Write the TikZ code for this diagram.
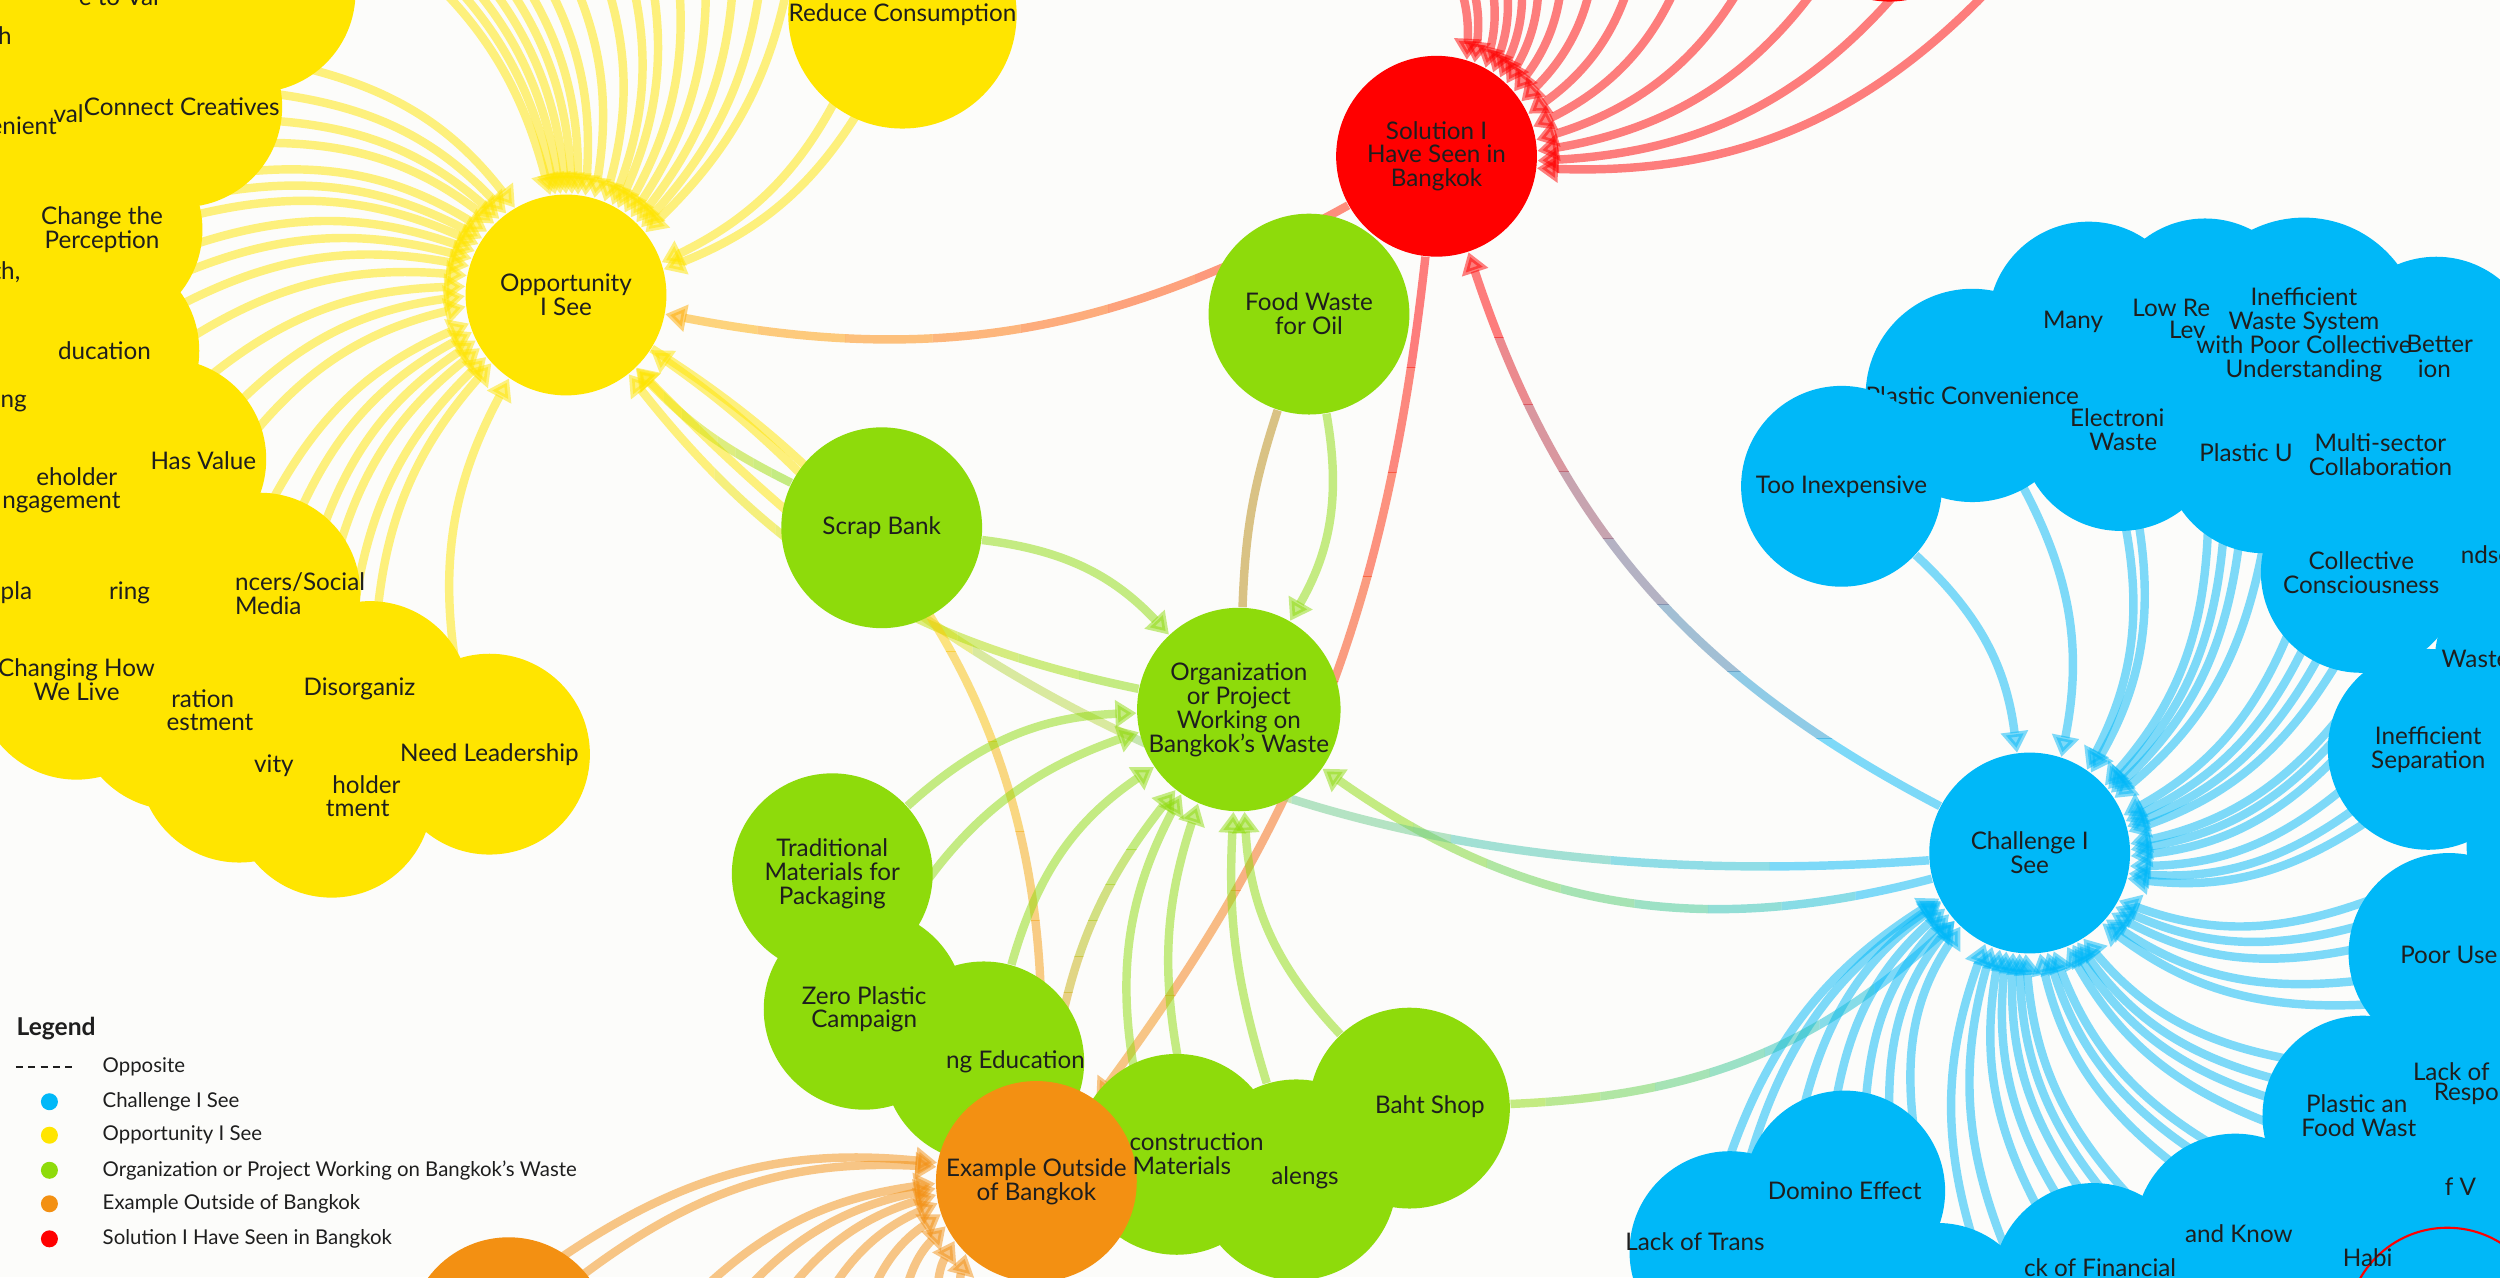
\documentclass[tikz,border=0pt]{standalone}
\usepackage{fontspec}
\setmainfont{Lato}
\usetikzlibrary{arrows.meta}
\pgfdeclarelayer{bglayer}
\pgfdeclarelayer{edgelayer}
\pgfsetlayers{bglayer,edgelayer,main}
\definecolor{bgc}{HTML}{FCFCFA}
\definecolor{cy}{HTML}{FFE500}
\definecolor{cg}{HTML}{8EDB0B}
\definecolor{cb}{HTML}{00B8F8}
\definecolor{cr}{HTML}{FF0000}
\definecolor{co}{HTML}{F39012}
\definecolor{tx}{HTML}{1E1E1E}
\definecolor{eTan}{HTML}{B88A10}
\colorlet{cSolOpp}{cr!85!cy}
\colorlet{cOppSol}{cy!75!cr}
\newcommand{\myNodeFont}{\fontsize{6.9}{6.8}\selectfont}
\newcommand{\myLegFont}{\fontsize{5.8}{6.5}\selectfont}
\tikzset{
  circ/.style={circle, minimum size=2.0085cm, inner sep=0pt, align=center, text=tx, font=\myNodeFont},
  ycirc/.style={circ, fill=cy},
  gcirc/.style={circ, fill=cg},
  bcirc/.style={circ, fill=cb},
  rcirc/.style={circ, fill=cr},
  ocirc/.style={circ, fill=co},
  frag/.style={inner sep=0pt, text=tx, font=\myNodeFont},
  fw/.style={frag, anchor=west},
  fe/.style={frag, anchor=east},
  ed/.style={opacity=0.5, line width=2.4pt, -{Triangle[length=6pt,width=7.5pt]}},
  legtxt/.style={anchor=west, inner sep=0pt, text=tx, font=\myLegFont},
  legdot/.style={circle, inner sep=0pt, minimum size=0.17cm},
}
% connector whose colour runs from #4 (at x=#6) to #5 (at x=#7)
\newcommand{\gedgeX}[7]{%
  \foreach \k in {0,...,7}{%
    \pgfmathtruncatemacro\gpa{100-\k*100/7}%
    \pgfmathsetmacro\gxa{#6+(#7-#6)*\k/8}%
    \pgfmathsetmacro\gxb{#6+(#7-#6)*(\k+1)/8}%
    \ifnum\k=0 \pgfmathsetmacro\gxa{#6-(#7-#6)*3}\fi
    \ifnum\k=7 \pgfmathsetmacro\gxb{#7+(#7-#6)*3}\fi
    \begin{scope}
      \clip (\gxa,300) rectangle (\gxb,-1100);
      \draw[ed, draw=#4!\gpa!#5] (#1) to[#3] (#2);
    \end{scope}}}
% connector whose colour runs from #4 (at y=#6) to #5 (at y=#7)
\newcommand{\gedgeY}[7]{%
  \foreach \k in {0,...,7}{%
    \pgfmathtruncatemacro\gpa{100-\k*100/7}%
    \pgfmathsetmacro\gya{#6+(#7-#6)*\k/8}%
    \pgfmathsetmacro\gyb{#6+(#7-#6)*(\k+1)/8}%
    \ifnum\k=0 \pgfmathsetmacro\gya{#6-(#7-#6)*3}\fi
    \ifnum\k=7 \pgfmathsetmacro\gyb{#7+(#7-#6)*3}\fi
    \begin{scope}
      \clip (-600,\gya) rectangle (2200,\gyb);
      \draw[ed, draw=#4!\gpa!#5] (#1) to[#3] (#2);
    \end{scope}}}
\begin{document}
\begin{tikzpicture}[x=0.01594cm, y=0.01594cm]
\begin{pgfonlayer}{bglayer}
\fill[bgc] (0,0) rectangle (1568,-801);
\end{pgfonlayer}
\useasboundingbox (0,0) rectangle (1568,-801);
\clip (0,0) rectangle (1568,-801);

% ---------------- yellow cluster
\node[ycirc] (yA) at (160,5) {};
\node[ycirc] (yB) at (57,5) {};
\node[ycirc] (yX) at (-20,-20) {};
\node[ycirc] (yY) at (20,-40) {};
\node[ycirc] (yD) at (-15,-80) {};
\node[ycirc] (yG) at (-20,-170) {};
\node[ycirc] (yH) at (-20,-252) {};
\node[ycirc] (yF) at (62,-220) {};
\node[ycirc] (yI) at (104,-288) {};
\node[ycirc] (yJ) at (44,-307) {};
\node[ycirc] (yK) at (50,-372) {};
\node[ycirc] (yL) at (163,-372) {};
\node[ycirc] (yN) at (110,-445) {};
\node[ycirc] (yO) at (232,-440) {};
\node[ycirc] (yP) at (150,-478) {};
\node[ycirc] (yQ) at (208,-500) {};
\node[ycirc] (yC) at (114,-67) {Connect Creatives};
\node[ycirc] (yE) at (64,-144) {Change the\\Perception};
\node[ycirc] (yM) at (48,-426) {Changing How\\We Live};
\node[ycirc] (yR) at (307,-473) {Need Leadership};
\node[ycirc] (opp) at (355,-185) {Opportunity\\I See};
\node[ycirc] (reduce) at (566,-9) {Reduce Consumption};

% ---------------- green / orange
\node[gcirc] (edu) at (617,-666) {};
\node[gcirc] (constr) at (738,-724) {};
\node[gcirc] (saleng) at (813,-740) {};
\node[gcirc] (baht) at (884,-695) {};
\node[gcirc] (zero) at (542,-633) {Zero Plastic\\Campaign};
\node[gcirc] (trad) at (522,-548) {Traditional\\Materials for\\Packaging};
\node[gcirc] (scrap) at (553,-331) {Scrap Bank};
\node[gcirc] (food) at (821,-197) {Food Waste\\for Oil};
\node[gcirc] (org) at (777,-445) {Organization\\or Project\\Working on\\Bangkok's Waste};
\node[ocirc] (example) at (650,-741) {Example Outside\\of Bangkok};
\node[ocirc] (oBL) at (319,-839) {};

% ---------------- red
\node[rcirc] (sol) at (901,-98) {Solution I\\Have Seen in\\Bangkok};
\node[rcirc] (rtop) at (1185,62) {};

% ---------------- blue cluster
\node[bcirc] (b1) at (1310,-202) {};
\node[bcirc] (b2) at (1383,-200) {};
\node[bcirc] (b3) at (1528,-224) {};
\node[bcirc] (b4) at (1330,-270) {};
\node[bcirc] (b5) at (1420,-284) {};
\node[bcirc] (b6) at (1595,-270) {};
\node[bcirc] (b7) at (1590,-345) {};
\node[bcirc] (b8) at (1590,-415) {};
\node[bcirc] (b9) at (1610,-530) {};
\node[bcirc] (b10) at (1536,-598) {};
\node[bcirc] (b11) at (1575,-680) {};
\node[bcirc] (b12) at (1482,-700) {};
\node[bcirc] (b13) at (1550,-760) {};
\node[bcirc] (b14) at (1402,-774) {};
\node[bcirc] (b15) at (1500,-835) {};
\node[bcirc] (b19) at (1460,-800) {};
\node[bcirc] (b16) at (1313,-805) {};
\node[bcirc] (b17) at (1085,-785) {};
\node[bcirc] (b18) at (1600,-800) {};
\node[bcirc] (b20) at (1215,-830) {};
\node[bcirc] (plconv) at (1237,-248) {Plastic Convenience};
\node[bcirc] (tooinexp) at (1155,-305) {Too Inexpensive};
\node[bcirc] (multi) at (1493,-285) {};
\node[bcirc] (ineff) at (1445,-210) {Inefficient\\Waste System\\with Poor Collective\\Understanding};
\node[bcirc] (coll) at (1481,-359) {Collective\\Consciousness};
\node[frag, align=center] (multiT) at (multi) {Multi-sector\\Collaboration};
\node[bcirc] (insep) at (1523,-470) {Inefficient\\Separation};
\node[bcirc] (domino) at (1157,-747) {Domino Effect};
\node[bcirc] (chal) at (1273,-535) {Challenge I\\See};
\node[circle, draw=cr, line width=0.6pt, minimum size=2.0085cm, inner sep=0pt] (redring) at (1535,-833) {};

% ---------------- text fragments of partly hidden nodes
\node[fw] (f1) at (49,2) {e to Val};
\node[frag] (f2) at (3,-22) {h};
\node[frag] (f3) at (43,-71) {val};
\node[fe] (f4) at (36,-79) {enient};
\node[frag] (f5) at (4,-171) {th,};
\node[fw] (f6) at (36,-220) {ducation};
\node[fw] (f7) at (0,-253) {ng};
\node[fw] (f8) at (94,-289) {Has Value};
\node[fe] (f9) at (74,-299) {eholder};
\node[fe] (f10) at (76,-315) {ngagement};
\node[fw] (f11) at (0,-372) {pla};
\node[fw] (f12) at (68,-372) {ring};
\node[fw] (f13) at (147,-365) {ncers/Social};
\node[fw] (f14) at (147,-380) {Media};
\node[fw] (f15) at (107,-438) {ration};
\node[fw] (f16) at (104,-453) {estment};
\node[fw] (f17) at (190,-432) {Disorganiz};
\node[fw] (f18) at (159,-480) {vity};
\node[fw] (f19) at (208,-492) {holder};
\node[fw] (f20) at (204,-507) {tment};
\node[fw] (f21) at (593,-666) {ng Education};
\node[fw] (f22) at (708,-716) {construction};
\node[fw] (f23) at (710,-731) {Materials};
\node[fw] (f24) at (797,-739) {alengs};
\node[fw] (f25) at (862,-694) {Baht Shop};
\node[fw] (f26) at (1281,-202) {Many};
\node[fw] (f27) at (1337,-193) {Low Re};
\node[fw] (f28) at (1360,-207) {Lev};
\node[fw] (f29) at (1509,-216) {Better};
\node[fw] (f30) at (1516,-231) {ion};
\node[fw] (f31) at (1298,-262) {Electroni};
\node[fw] (f32) at (1310,-277) {Waste};
\node[fw] (f33) at (1379,-284) {Plastic U};
\node[fw] (f34) at (1543,-348) {ndse};
\node[fw] (f35) at (1531,-413) {Waste};
\node[fw] (f36) at (1505,-599) {Poor Use};
\node[fw] (f37) at (1513,-672) {Lack of};
\node[fw] (f38) at (1526,-686) {Respo};
\node[fw] (f39) at (1446,-692) {Plastic an};
\node[fw] (f40) at (1443,-707) {Food Wast};
\node[fw] (f41) at (1533,-744) {f V};
\node[fw] (f42) at (1370,-774) {and Know};
\node[fw] (f43) at (1469,-789) {Habi};
\node[fw] (f44) at (1269,-795) {ck of Financial};
\node[fw] (f45) at (1019,-779) {Lack of Trans};

% ---------------- legend
\node[anchor=west, inner sep=0pt, text=tx, font=\fontsize{7}{8}\selectfont\bfseries] (legT) at (10,-645) {Legend};
\coordinate (lgA) at (10,-669);
\coordinate (lgB) at (48,-669);
\draw[tx, line width=0.5pt, dash pattern=on 2pt off 1.5pt] (lgA) -- (lgB);
\node[legtxt] (lg0) at (64,-669) {Opposite};
\node[legdot, fill=cb] (d1) at (31,-691) {};
\node[legtxt] (lg1) at (64,-691) {Challenge I See};
\node[legdot, fill=cy] (d2) at (31,-712) {};
\node[legtxt] (lg2) at (64,-712) {Opportunity I See};
\node[legdot, fill=cg] (d3) at (31,-734) {};
\node[legtxt] (lg3) at (64,-734) {Organization or Project Working on Bangkok's Waste};
\node[legdot, fill=co] (d4) at (31,-755) {};
\node[legtxt] (lg4) at (64,-755) {Example Outside of Bangkok};
\node[legdot, fill=cr] (d5) at (31,-777) {};
\node[legtxt] (lg5) at (64,-777) {Solution I Have Seen in Bangkok};

% ---------------- connectors (under the nodes)
\begin{pgfonlayer}{edgelayer}
\clip (0,0) rectangle (1568,-801);
% yellow, from the top
\foreach \i/\x in {1/225,2/240,3/255,4/270,5/285,6/300,7/318,8/340,9/365,10/385,11/400,12/420,13/440,14/460,15/480,16/500} {
  \coordinate (yt\i) at (\x,50);
  \draw[ed, cy] (yt\i) to[bend left=20] (opp);
}
% yellow, from the cluster
\foreach \i/\x/\y in {1/180/-40,2/165/-58,3/155/-75,4/150/-90,5/135/-110,6/115/-125,7/103/-140,8/103/-160,9/95/-180,10/97/-200,11/100/-225,12/115/-250,13/135/-268,14/145/-290,15/165/-325,16/180/-340,17/195/-355,18/205/-375,19/220/-400,20/235/-415,21/290/-440} {
  \coordinate (yl\i) at (\x,\y);
  \draw[ed, cy] (yl\i) to[bend left=20] (opp);
}
\coordinate (rc1) at (535,-40);
\coordinate (rc2) at (550,-50);
\draw[ed, cy] (rc1) to[bend left=20] (opp);
\draw[ed, cy] (rc2) to[bend left=20] (opp);
% red, from above
\foreach \i/\x/\y in {1/880/60,2/893/60,3/912/60,4/926/60,5/940/60,6/955/60,7/975/60,8/1000/60,9/1030/55,10/1065/50,11/1110/45,12/1160/40,13/1210/30,14/1260/20} {
  \coordinate (rt\i) at (\x,\y);
  \draw[ed, cr] (rt\i) to[bend left=25] (sol);
}
% blue, into the challenge
\draw[ed, cb] (tooinexp) to[bend left=20] (chal);
\foreach \i/\x/\y in {1/1266/-300,2/1330/-315,3/1340/-320,4/1385/-325,5/1395/-330,6/1405/-335,7/1420/-340,8/1440/-385,9/1450/-395,10/1458/-405,11/1468/-412,12/1475/-440,13/1472/-455,14/1470/-470,15/1475/-490,16/1480/-505,17/1485/-515,18/1485/-565,19/1482/-580,20/1478/-595,21/1480/-615,22/1485/-630,23/1440/-665,24/1432/-678,25/1428/-690,26/1425/-705,27/1400/-725,28/1385/-728,29/1370/-735,30/1345/-760,31/1330/-760,32/1315/-760,33/1300/-765,34/1285/-770,35/1265/-800,36/1245/-800,37/1200/-705,38/1185/-700,39/1170/-695,40/1150/-700,41/1130/-700,42/1095/-735,43/1080/-740} {
  \coordinate (bs\i) at (\x,\y);
  \draw[ed, cb] (bs\i) to[bend left=20] (chal);
}
% orange, into the example
\foreach \i/\x/\y in {1/350/-790,2/365/-800,3/420/-830,4/450/-830,5/480/-830,6/510/-830,7/540/-830,8/565/-830,9/590/-830,10/610/-830} {
  \coordinate (os\i) at (\x,\y);
  \draw[ed, co] (os\i) to[bend left=20] (example);
}
% links between groups
\gedgeX{sol}{opp}{bend left=20}{cSolOpp}{cOppSol}{860}{420}
\draw[ed, cg] (food) to[bend left=20] (org);
\draw[ed, eTan, -] (org) to[bend left=8] (food);
\gedgeY{sol}{example}{bend left=15}{cr}{co}{-165}{-690}
\gedgeY{chal}{sol}{bend left=22}{cb}{cr}{-505}{-170}
\gedgeX{chal}{org}{bend left=25}{cb}{cg}{1210}{840}
\gedgeX{chal}{opp}{bend left=25}{cb}{cy}{1210}{410}
\gedgeX{baht}{chal}{bend right=20}{cg}{cb}{935}{1210}
\draw[ed, cg] (scrap) to[bend left=20] (org);
\gedgeX{org}{opp}{bend left=20}{cg}{cy}{715}{410}
\gedgeY{opp}{example}{bend left=30}{cy}{co}{-240}{-690}
\coordinate (sc1) at (515,-310);
\gedgeX{scrap}{opp}{bend left=10}{cg}{cy}{495}{405}
\draw[ed, cy] (sc1) to[bend right=5] (opp);
\coordinate (tr1) at (560,-585);
\draw[ed, cg] (trad) to[bend left=20] (org);
\draw[ed, cg] (tr1) to[bend left=20] (org);
\draw[ed, cg] (edu) to[bend left=20] (org);
\coordinate (cs1) at (715,-690);
\coordinate (cs2) at (742,-680);
\draw[ed, cg] (cs1) to[bend left=20] (org);
\draw[ed, cg] (cs2) to[bend left=15] (org);
\draw[ed, cg] (saleng) to[bend left=10] (org);
\draw[ed, cg] (baht) to[bend left=20] (org);
\gedgeY{example}{org}{bend left=15}{co}{cg}{-690}{-510}
\end{pgfonlayer}
\end{tikzpicture}
\end{document}
